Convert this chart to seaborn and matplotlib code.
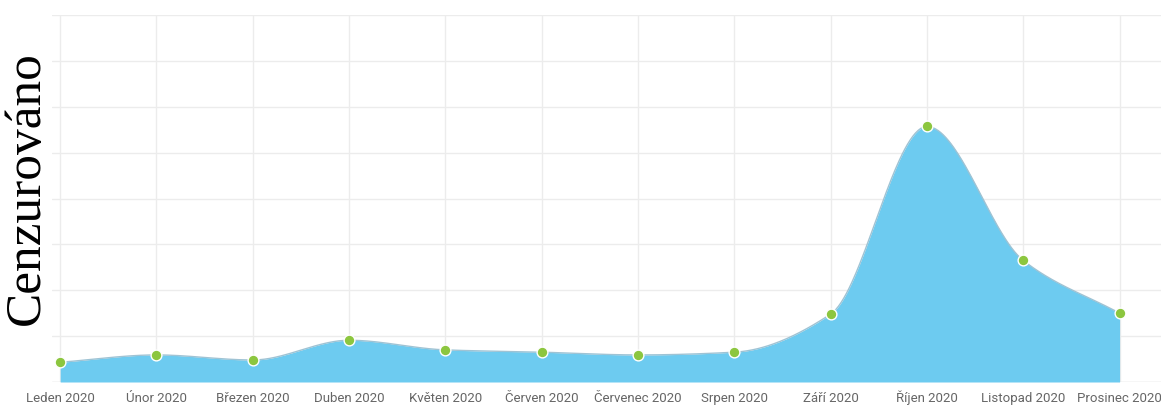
import numpy as np
import pandas as pd
import matplotlib
matplotlib.use("Agg")
import matplotlib.pyplot as plt
import seaborn as sns

months = ["Leden 2020", "Únor 2020", "Březen 2020", "Duben 2020", "Květen 2020",
          "Červen 2020", "Červenec 2020", "Srpen 2020", "Září 2020", "Říjen 2020",
          "Listopad 2020", "Prosinec 2020"]
values = [0.43, 0.59, 0.48, 0.91, 0.70, 0.65, 0.59, 0.65, 1.48, 5.57, 2.65, 1.50]
y_label = "Cenzurováno"


def pchip(x, y, xs):
    """Monotone cubic (Fritsch-Carlson) interpolation."""
    x = np.asarray(x, float)
    y = np.asarray(y, float)
    h = np.diff(x)
    d = np.diff(y) / h
    m = np.zeros_like(y)
    for i in range(1, len(y) - 1):
        if d[i - 1] * d[i] > 0:
            w1 = 2 * h[i] + h[i - 1]
            w2 = h[i] + 2 * h[i - 1]
            m[i] = (w1 + w2) / (w1 / d[i - 1] + w2 / d[i])
    m[0] = d[0]
    m[-1] = d[-1]
    idx = np.clip(np.searchsorted(x, xs) - 1, 0, len(x) - 2)
    t = (xs - x[idx]) / h[idx]
    h00 = 2 * t**3 - 3 * t**2 + 1
    h10 = t**3 - 2 * t**2 + t
    h01 = -2 * t**3 + 3 * t**2
    h11 = t**3 - t**2
    return (h00 * y[idx] + h10 * h[idx] * m[idx]
            + h01 * y[idx + 1] + h11 * h[idx] * m[idx + 1])


sns.set_theme(style="whitegrid")
plt.rcParams["font.family"] = ["Roboto", "DejaVu Sans"]

fig = plt.figure(figsize=(11.61, 4.07), dpi=100)
ax = fig.add_axes([52 / 1161, 1 - 382 / 407, 1 - 52 / 1161, (382 - 15) / 407])

pos = np.arange(len(months))
xs = np.linspace(0, len(months) - 1, 800)
ys = pchip(pos, values, xs)
curve = pd.DataFrame({"x": xs, "y": ys})
pts = pd.DataFrame({"x": pos, "y": values})

ax.fill_between(xs, 0, ys, color="#6dcbf0", linewidth=0, zorder=2)
sns.lineplot(data=curve, x="x", y="y", ax=ax, color="#9fc3d4", linewidth=1.0,
             zorder=3, sort=False)
sns.scatterplot(data=pts, x="x", y="y", ax=ax, color="#8cc63f", s=60,
                edgecolor="white", linewidth=1.0, zorder=4)

ax.set_xlim(-0.085, 11.43)
ax.set_ylim(0, 8)
ax.set_yticks(np.arange(0, 9, 1))
ax.set_yticklabels([])
ax.set_xticks(pos)
ax.set_xticklabels(months, color="#666666", fontsize=9.5)
for lbl in ax.get_xticklabels():
    lbl.set_verticalalignment("baseline")
ax.tick_params(axis="x", length=0, pad=14.5)
ax.tick_params(axis="y", length=0)
ax.set_xlabel("")
ax.set_ylabel("")
ax.grid(True, color="#ececec", linewidth=1.0)
ax.set_axisbelow(True)
for s in ax.spines.values():
    s.set_visible(False)
ax.axhline(0, color="#e2e2e2", linewidth=1.0, zorder=1)

fig.text(27 / 1161, 1 - 188 / 407, y_label, rotation=90, ha="center", va="center",
         fontsize=37, family=["Liberation Serif", "DejaVu Serif"], color="black")

fig.savefig("out.png", dpi=100)
